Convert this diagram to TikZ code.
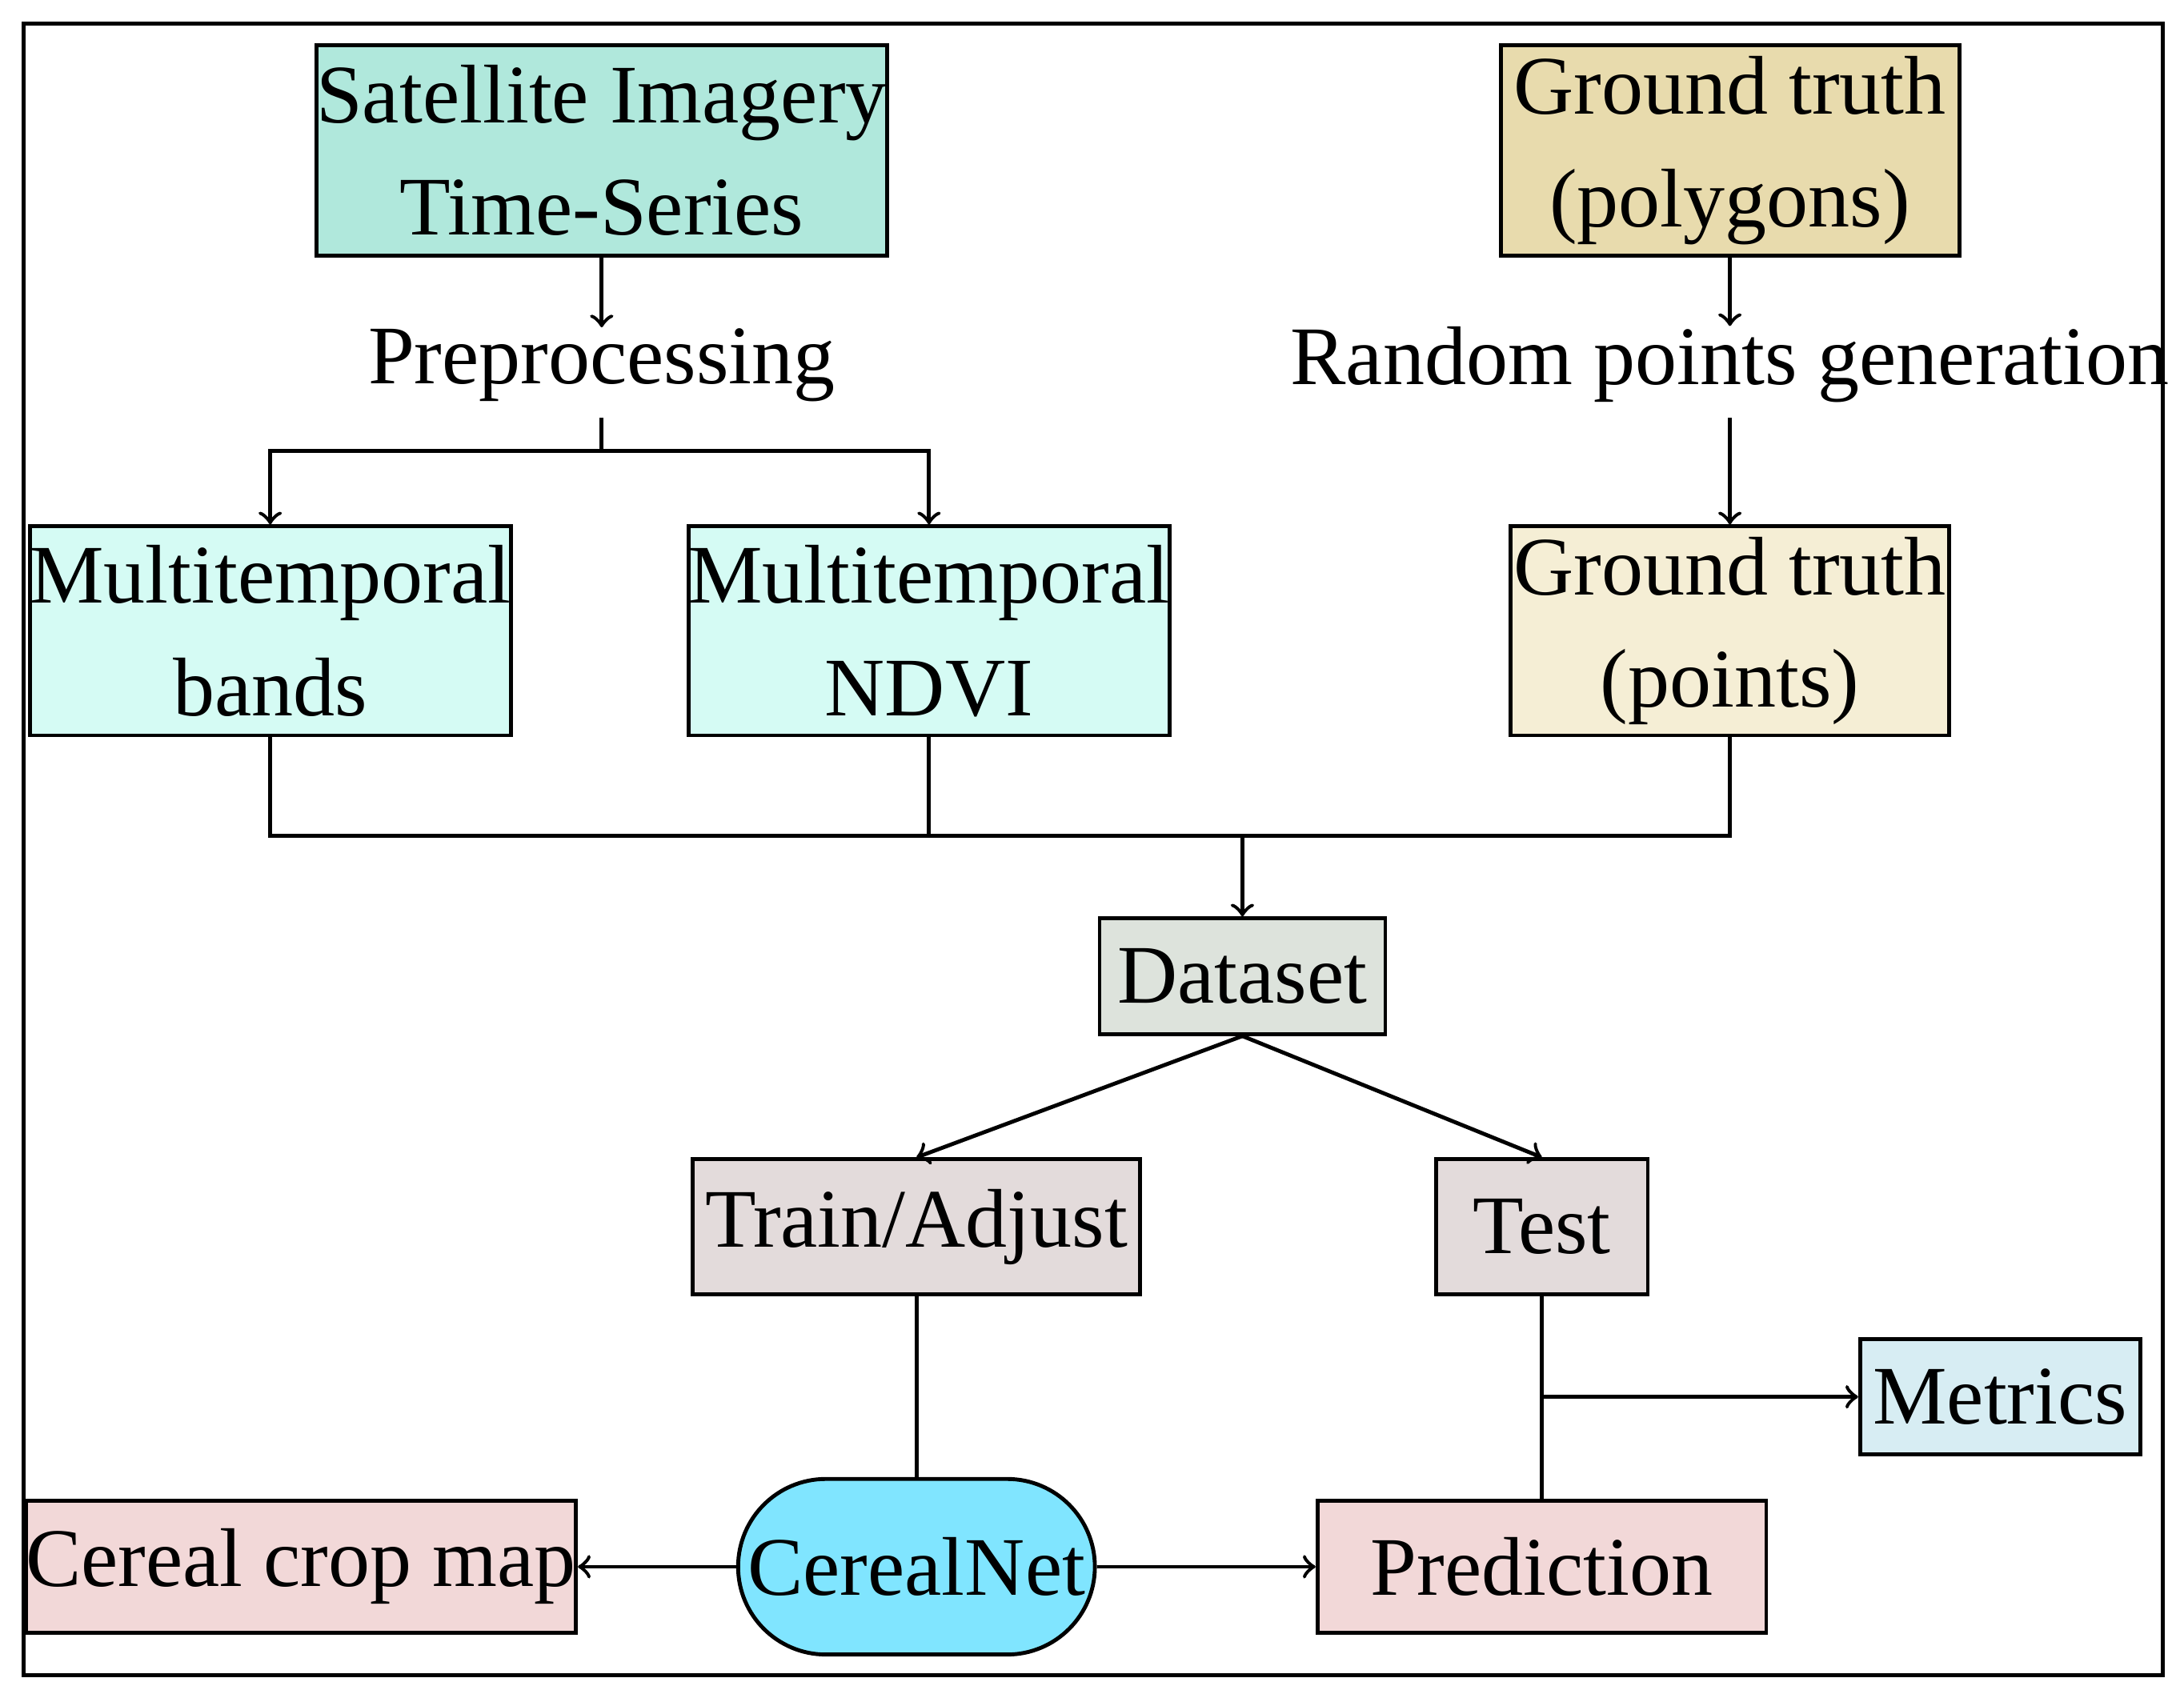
\documentclass[tikz,border=0pt]{standalone}
\usepackage{fontspec}
\setmainfont{Liberation Serif}
\begin{document}
\begin{tikzpicture}[x=0.01cm,y=-0.01cm,
 bx/.style={draw,thick,inner sep=0pt,align=center,font=\fontsize{17}{23}\selectfont},
 lbl/.style={inner sep=0pt,font=\fontsize{17}{23}\selectfont},
 ln/.style={thick},
 ar/.style={thick,-to}]
\useasboundingbox (0,0) rectangle (1568,1222);
\draw[thick] (17,17) rectangle (1553,1203);
\node[bx,fill={rgb,255:red,176;green,232;blue,220},minimum width=390\pgflinewidth*0+3.9cm,minimum height=1.51cm] (sat) at (432,108) {Satellite Imagery\\Time-Series};
\node[lbl] (pre) at (432,262) {Preprocessing};
\node[bx,fill={rgb,255:red,232;green,219;blue,173},minimum width=3.29cm,minimum height=1.51cm] (gtp) at (1242,108) {Ground truth\\(polygons)};
\node[lbl] (rnd) at (1242,262) {Random points generation};
\node[bx,fill={rgb,255:red,213;green,251;blue,244},minimum width=3.21cm,minimum height=1.5cm] (mtb) at (194,453) {Multitemporal\\bands};
\node[bx,fill={rgb,255:red,213;green,251;blue,244},minimum width=3.15cm,minimum height=1.5cm] (mtn) at (667,453) {Multitemporal\\NDVI};
\node[bx,fill={rgb,255:red,245;green,238;blue,213},minimum width=3.15cm,minimum height=1.5cm] (gtpt) at (1242,453) {Ground truth\\(points)};
\node[bx,fill={rgb,255:red,221;green,227;blue,220},minimum width=2.05cm,minimum height=0.83cm] (ds) at (892,701) {Dataset};
\node[bx,fill={rgb,255:red,227;green,219;blue,219},minimum width=3.21cm,minimum height=0.97cm] (tr) at (658,881) {Train/Adjust};
\node[bx,fill={rgb,255:red,227;green,219;blue,219},minimum width=1.52cm,minimum height=0.97cm] (te) at (1107,881) {Test};
\node[bx,fill={rgb,255:red,215;green,237;blue,243},minimum width=2.01cm,minimum height=0.83cm] (met) at (1436,1003) {Metrics};
\node[bx,fill={rgb,255:red,128;green,229;blue,255},rounded corners=0.63cm,minimum width=2.56cm,minimum height=1.26cm] (cn) at (658,1125) {CerealNet};
\node[bx,fill={rgb,255:red,242;green,216;blue,216},minimum width=3.64cm,minimum height=0.95cm] (ccm) at (216,1125) {Cereal crop map};
\node[bx,fill={rgb,255:red,242;green,216;blue,216},minimum width=3.22cm,minimum height=0.95cm] (pred) at (1107,1125) {Prediction};
\coordinate (pb) at (432,324);
\coordinate (mg) at (892,600);
\coordinate (br) at (1107,1003);
\draw[ar] (sat) -- (pre);
\draw[ar] (gtp) -- (rnd);
\draw[ln] (432,300) -- (pb);
\draw[ar] (pb) -| (mtb.north);
\draw[ar] (pb) -| (mtn.north);
\draw[ar] (1242,300) -- (gtpt.north);
\draw[ln] (mtb.south) |- (mg);
\draw[ln] (mtn.south) |- (mg);
\draw[ln] (gtpt.south) |- (mg);
\draw[ar] (mg) -- (ds.north);
\draw[ar] (ds.south) -- (tr.north);
\draw[ar] (ds.south) -- (te.north);
\draw[ln] (tr) -- (cn);
\draw[ln] (te) -- (pred);
\draw[ar] (br) -- (met);
\draw[ar] (cn) -- (ccm);
\draw[ar] (cn) -- (pred);
\end{tikzpicture}
\end{document}
